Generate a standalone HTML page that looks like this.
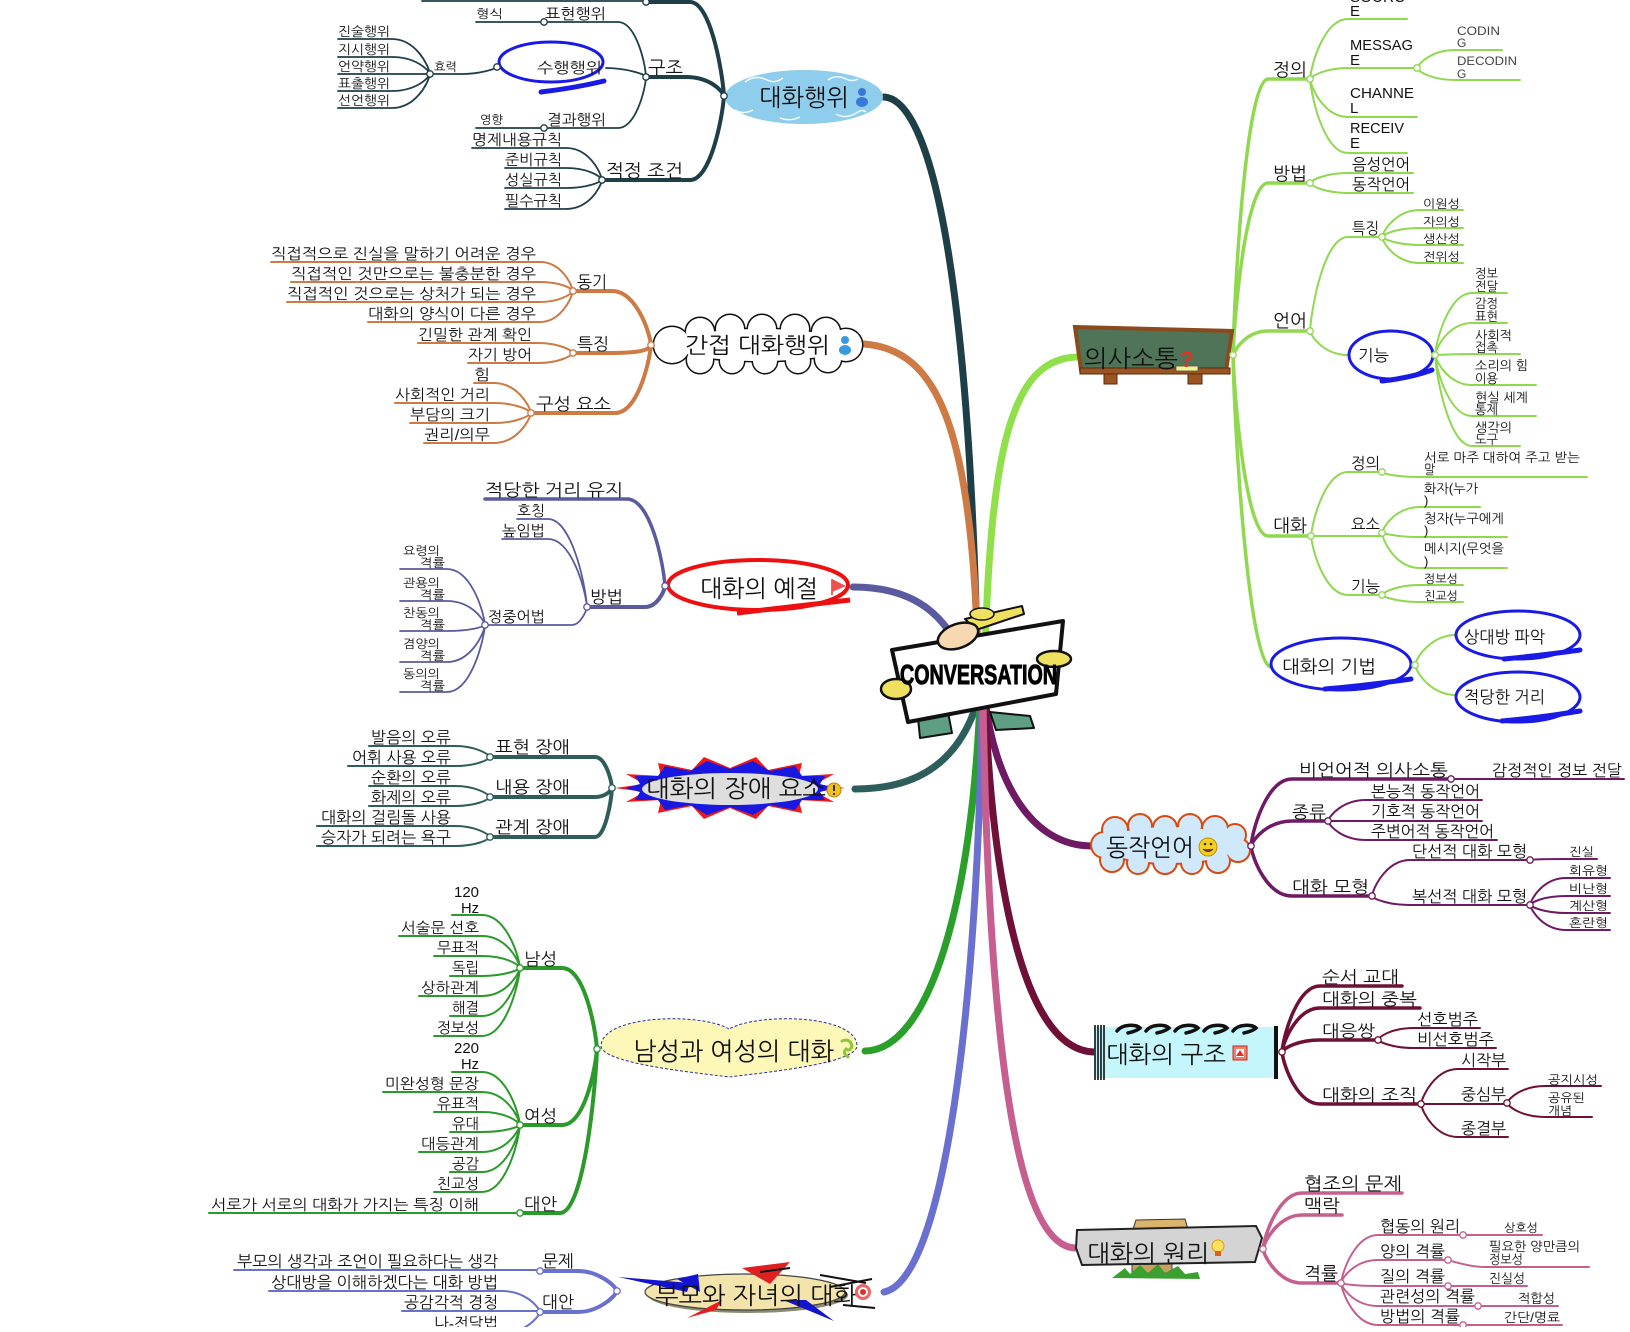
<!DOCTYPE html>
<html><head><meta charset="utf-8"><style>
html,body{margin:0;padding:0;background:#fff;overflow:hidden}
svg text{font-family:"Liberation Sans","NanumGothic","Noto Sans CJK KR",sans-serif;fill:#111}
.d{fill:#fff;stroke-width:1.3}
</style></head><body>
<svg xmlns="http://www.w3.org/2000/svg" width="1630" height="1327" viewBox="0 0 1630 1327">
<rect width="1630" height="1327" fill="#fff"/>
<!-- main lines -->
<g fill="none" stroke-width="7" stroke-linecap="round">
<path d="M884 97 C935 100 972 300 978 700" stroke="#1e3e48"/>
<path d="M864 344 C940 350 975 430 979 700" stroke="#cd7a44"/>
<path d="M853 587 C920 587 960 620 975 700" stroke="#5a5a9e"/>
<path d="M855 789 C920 789 960 760 978 700" stroke="#2d5e5c"/>
<path d="M865 1051 C930 1050 972 900 980 700" stroke="#2aa02a"/>
<path d="M884 1292 C945 1280 978 1000 982 700" stroke="#6a70d0"/>
<path d="M1076 357 C1010 360 988 450 984 700" stroke="#8fe04a"/>
<path d="M1092 846 C1030 846 995 780 985 700" stroke="#6e1a64"/>
<path d="M1094 1052 C1020 1050 992 870 985 700" stroke="#6e1038"/>
<path d="M1075 1248 C1010 1245 988 1000 983 700" stroke="#c65f90"/>
</g>
<!-- Branch 1 lines -->
<g fill="none" stroke="#1e3e48" stroke-linecap="round">
<path d="M646 2 H690 C710 2 722 68 724 96" stroke-width="4"/>
<path d="M646 77 H686 C709 77 722 90 724 96" stroke-width="4"/>
<path d="M602 180 H690 C710 180 722 121 724 96" stroke-width="4"/>
<g stroke-width="1.8">
<path d="M422 1 H646"/>
<path d="M476 22 H618 C635 22 645 60 646 77"/>
<path d="M606 68 C625 68 645 74 646 77"/>
<path d="M476 128 H618 C635 128 645 92 646 77"/>
<path d="M430 74 H462 C480 74 495 69 497 67"/>
<path d="M338 39 H392 C415 39 428 64 430 74"/>
<path d="M338 57 H392 C415 57 428 69 430 74"/>
<path d="M338 74 H430"/>
<path d="M338 91 H392 C415 91 428 79 430 74"/>
<path d="M338 108 H392 C415 108 428 84 430 74"/>
<path d="M472 148 H566 C588 148 600 170 602 180"/>
<path d="M505 168 H566 C588 168 600 176 602 180"/>
<path d="M505 188 H566 C588 188 600 182 602 180"/>
<path d="M505 209 H566 C588 209 600 189 602 180"/>
</g></g>
<!-- Branch 2 lines -->
<g fill="none" stroke="#cd7a44" stroke-linecap="round">
<path d="M573 291 H612 C635 291 649 329 651 345" stroke-width="4"/>
<path d="M573 353 H612 C635 353 649 351 651 345" stroke-width="4"/>
<path d="M531 413 H615 C637 413 649 365 651 345" stroke-width="4"/>
<g stroke-width="2">
<path d="M271 262 H540 C560 262 571 282 573 291"/>
<path d="M291 282 H540 C560 282 571 288 573 291"/>
<path d="M287 302 H540 C560 302 571 294 573 291"/>
<path d="M368 322 H540 C560 322 571 300 573 291"/>
<path d="M418 343 H538 C559 343 571 350 573 353"/>
<path d="M468 363 H538 C559 363 571 356 573 353"/>
<path d="M474 383 H494 C516 383 529 404 531 413"/>
<path d="M395 403 H494 C516 403 529 410 531 413"/>
<path d="M410 423 H494 C516 423 529 416 531 413"/>
<path d="M424 443 H494 C516 443 529 422 531 413"/>
</g></g>
<!-- Branch 3 lines -->
<g fill="none" stroke="#5a5a9e" stroke-linecap="round">
<path d="M485 499 H627 C650 499 663 560 665 586" stroke-width="3.5"/>
<path d="M587 607 H645 C657 607 664 592 665 586" stroke-width="4"/>
<g stroke-width="1.8">
<path d="M517 519 H548 C571 519 585 581 587 607"/>
<path d="M502 539 H548 C571 539 585 587 587 607"/>
<path d="M485 625 H572 C580 625 586 612 587 607"/>
<path d="M400 569 H447 C470 569 483 608 485 625"/>
<path d="M400 601 H447 C470 601 483 618 485 625"/>
<path d="M400 631 H447 C470 631 483 627 485 625"/>
<path d="M400 662 H447 C470 662 483 636 485 625"/>
<path d="M400 692 H447 C470 692 483 645 485 625"/>
</g></g>
<!-- Branch 4 lines -->
<g fill="none" stroke="#2d5e5c" stroke-linecap="round">
<path d="M490 757 H595 C605 757 611 778 612 788" stroke-width="4"/>
<path d="M490 797 H595 C605 797 611 791 612 788" stroke-width="4"/>
<path d="M490 837 H595 C605 837 611 803 612 788" stroke-width="4"/>
<g stroke-width="2">
<path d="M369 746 H455 C476 746 488 754 490 757"/>
<path d="M348 766 H455 C476 766 488 760 490 757"/>
<path d="M369 786 H455 C476 786 488 794 490 797"/>
<path d="M369 806 H455 C476 806 488 800 490 797"/>
<path d="M317 826 H455 C476 826 488 834 490 837"/>
<path d="M317 846 H455 C476 846 488 840 490 837"/>
</g></g>
<!-- Branch 5 lines -->
<g fill="none" stroke="#2a9a2a" stroke-linecap="round">
<path d="M520 968 H562 C584 968 595 1025 597 1049" stroke-width="4"/>
<path d="M520 1125 H562 C584 1125 595 1072 597 1049" stroke-width="4"/>
<path d="M520 1213 H560 C583 1213 595 1098 597 1049" stroke-width="4"/>
<g stroke-width="2">
<path d="M452 915 H482 C505 915 518 952 520 968"/>
<path d="M399 936 H482 C505 936 518 958 520 968"/>
<path d="M434 956 H482 C505 956 518 964 520 968"/>
<path d="M450 976 H482 C505 976 518 970 520 968"/>
<path d="M419 996 H482 C505 996 518 976 520 968"/>
<path d="M450 1016 H482 C505 1016 518 982 520 968"/>
<path d="M434 1036 H482 C505 1036 518 988 520 968"/>
<path d="M452 1072 H482 C505 1072 518 1109 520 1125"/>
<path d="M383 1092 H482 C505 1092 518 1115 520 1125"/>
<path d="M434 1112 H482 C505 1112 518 1121 520 1125"/>
<path d="M450 1132 H482 C505 1132 518 1127 520 1125"/>
<path d="M419 1152 H482 C505 1152 518 1133 520 1125"/>
<path d="M450 1172 H482 C505 1172 518 1139 520 1125"/>
<path d="M434 1192 H482 C505 1192 518 1145 520 1125"/>
<path d="M209 1213 H520"/>
</g></g>
<!-- Branch 6 lines -->
<g fill="none" stroke="#6a70d0" stroke-linecap="round">
<path d="M540 1271 H578 C598 1271 615 1285 617 1291" stroke-width="4"/>
<path d="M540 1312 H578 C598 1312 615 1297 617 1291" stroke-width="4"/>
<g stroke-width="2">
<path d="M234 1270 H540"/>
<path d="M269 1291 H502 C525 1291 538 1306 540 1312"/>
<path d="M402 1311 H540"/>
<path d="M432 1333 H502 C525 1333 538 1318 540 1312"/>
</g></g>
<!-- R1 lines -->
<g fill="none" stroke="#8fd850" stroke-linecap="round">
<g stroke-width="3.5">
<path d="M1233 355 C1235 272 1247 79 1268 79 H1310"/>
<path d="M1233 355 C1235 304 1247 183 1268 183 H1310"/>
<path d="M1233 355 C1236 348 1247 331 1268 331 H1310"/>
<path d="M1233 355 C1235 410 1247 536 1268 536 H1311"/>
<path d="M1233 355 C1235 449 1250 667 1271 667"/>
</g>
<g stroke-width="2">
<path d="M1310 79 C1312 61 1325 19 1348 19 H1407"/>
<path d="M1310 79 C1312 76 1325 68 1348 68 H1417"/>
<path d="M1310 79 C1312 90 1325 117 1348 117 H1417"/>
<path d="M1310 79 C1312 101 1325 153 1348 153 H1407"/>
<path d="M1417 68 C1419 63 1432 50 1455 50 H1502"/>
<path d="M1417 68 C1419 72 1432 80 1455 80 H1520"/>
<path d="M1310 183 C1312 180 1325 173 1348 173 H1413"/>
<path d="M1310 183 C1312 186 1325 193 1348 193 H1413"/>
<path d="M1310 331 C1312 303 1325 237 1348 237 H1382"/>
<path d="M1310 331 C1312 338 1325 355 1348 355"/>
<path d="M1382 237 C1384 229 1397 210 1420 210 H1463"/>
<path d="M1382 237 C1384 234 1397 228 1420 228 H1463"/>
<path d="M1382 237 C1384 239 1397 245 1420 245 H1463"/>
<path d="M1382 237 C1384 245 1397 263 1420 263 H1463"/>
<path d="M1435 355 C1437 336 1450 293 1472 293 H1507"/>
<path d="M1435 355 C1437 345 1450 323 1472 323 H1507"/>
<path d="M1435 355 C1437 355 1450 354 1472 354 H1520"/>
<path d="M1435 355 C1437 364 1450 385 1472 385 H1536"/>
<path d="M1435 355 C1437 373 1450 416 1472 416 H1536"/>
<path d="M1435 355 C1437 382 1450 446 1472 446 H1520"/>
<path d="M1311 536 C1313 517 1326 472 1348 472 H1382"/>
<path d="M1311 536 H1382"/>
<path d="M1311 536 C1313 554 1326 595 1348 595 H1382"/>
<path d="M1382 472 C1384 474 1398 477 1420 477 H1587"/>
<path d="M1382 533 C1384 525 1397 507 1420 507 H1480"/>
<path d="M1382 533 C1390 535 1400 537 1420 537 H1507"/>
<path d="M1382 533 C1384 544 1397 568 1420 568 H1507"/>
<path d="M1382 595 C1384 592 1397 585 1420 585 H1463"/>
<path d="M1382 595 C1384 597 1397 602 1420 602 H1463"/>
<path d="M1415 665 C1417 656 1432 635 1456 635"/>
<path d="M1415 665 C1417 674 1432 695 1456 695"/>
</g></g>
<!-- R2 lines -->
<g fill="none" stroke="#6e1a64" stroke-linecap="round">
<g stroke-width="3.5">
<path d="M1251 846 C1253 826 1268 779 1292 779 H1451"/>
<path d="M1251 846 C1253 839 1268 821 1292 821 H1328"/>
<path d="M1251 846 C1253 861 1268 896 1292 896 H1372"/>
</g>
<g stroke-width="2">
<path d="M1451 779 H1624"/>
<path d="M1328 821 C1330 815 1343 800 1366 800 H1482"/>
<path d="M1328 821 H1482"/>
<path d="M1328 821 C1330 827 1343 840 1366 840 H1497"/>
<path d="M1372 896 C1374 885 1388 860 1410 860 H1530"/>
<path d="M1372 896 C1374 899 1388 905 1410 905 H1530"/>
<path d="M1530 860 C1535 859 1550 859 1565 859 H1597"/>
<path d="M1530 905 C1532 897 1544 878 1566 878 H1610"/>
<path d="M1530 905 C1532 902 1544 896 1566 896 H1610"/>
<path d="M1530 905 C1532 907 1544 913 1566 913 H1610"/>
<path d="M1530 905 C1532 912 1544 930 1566 930 H1610"/>
</g></g>
<!-- R3 lines -->
<g fill="none" stroke="#6e1038" stroke-linecap="round">
<g stroke-width="3.5">
<path d="M1282 1052 C1284 1032 1298 986 1320 986 H1402"/>
<path d="M1282 1052 C1284 1039 1298 1008 1320 1008 H1420"/>
<path d="M1282 1052 C1284 1048 1298 1040 1320 1040 H1378"/>
<path d="M1282 1052 C1284 1068 1298 1104 1320 1104 H1421"/>
</g>
<g stroke-width="2">
<path d="M1378 1040 C1380 1036 1392 1028 1414 1028 H1480"/>
<path d="M1378 1040 C1380 1042 1392 1048 1414 1048 H1496"/>
<path d="M1421 1104 C1423 1094 1436 1069 1458 1069 H1508"/>
<path d="M1421 1104 H1507"/>
<path d="M1421 1104 C1423 1114 1436 1137 1458 1137 H1508"/>
<path d="M1507 1103 C1509 1098 1522 1086 1545 1086 H1601"/>
<path d="M1507 1103 C1509 1107 1522 1117 1545 1117 H1592"/>
</g></g>
<!-- R4 lines -->
<g fill="none" stroke="#c65f90" stroke-linecap="round">
<g stroke-width="3.5">
<path d="M1263 1249 C1265 1232 1280 1193 1302 1193 H1402"/>
<path d="M1263 1249 C1265 1239 1280 1215 1302 1215 H1342"/>
<path d="M1263 1249 C1265 1259 1280 1283 1302 1283 H1341"/>
</g>
<g stroke-width="2">
<path d="M1341 1283 C1343 1269 1356 1235 1378 1235 H1463"/>
<path d="M1341 1283 C1343 1276 1356 1260 1378 1260 H1448"/>
<path d="M1341 1283 C1343 1284 1356 1286 1378 1286 H1448"/>
<path d="M1341 1283 C1343 1290 1356 1306 1378 1306 H1478"/>
<path d="M1341 1283 C1343 1296 1356 1325 1378 1325 H1463"/>
<path d="M1463 1235 H1542"/>
<path d="M1448 1260 C1455 1262 1470 1267 1485 1267 H1589"/>
<path d="M1448 1286 H1527"/>
<path d="M1478 1306 H1558"/>
<path d="M1463 1325 H1562"/>
</g></g>

<!-- ===== Topic shapes ===== -->
<ellipse cx="804" cy="97" rx="79" ry="27" fill="#8fcdec"/>
<g fill="none" stroke="#fff" stroke-width="1.5" opacity="0.9">
<path d="M745 82 q10 -8 22 -2 q8 4 16 -2"/>
<path d="M828 80 q8 -6 18 -1 q6 3 12 0"/>
<path d="M735 110 q8 5 18 0"/>
<path d="M836 114 q10 6 22 -2 q4 -3 8 0"/>
<path d="M780 118 q10 4 20 -1"/>
</g>
<g stroke="#111" stroke-width="3" fill="#111">
<circle cx="700" cy="332" r="14"/><circle cx="730" cy="329" r="14"/><circle cx="762" cy="329" r="14"/><circle cx="795" cy="329" r="14"/><circle cx="826" cy="332" r="14"/>
<circle cx="672" cy="345" r="18"/><circle cx="846" cy="345" r="16"/>
<circle cx="700" cy="360" r="13"/><circle cx="732" cy="361" r="12"/><circle cx="765" cy="361" r="12"/><circle cx="798" cy="361" r="12"/><circle cx="828" cy="359" r="13"/>
<ellipse cx="760" cy="345" rx="88" ry="16"/>
</g>
<g fill="#fff">
<circle cx="700" cy="332" r="14"/><circle cx="730" cy="329" r="14"/><circle cx="762" cy="329" r="14"/><circle cx="795" cy="329" r="14"/><circle cx="826" cy="332" r="14"/>
<circle cx="672" cy="345" r="18"/><circle cx="846" cy="345" r="16"/>
<circle cx="700" cy="360" r="13"/><circle cx="732" cy="361" r="12"/><circle cx="765" cy="361" r="12"/><circle cx="798" cy="361" r="12"/><circle cx="828" cy="359" r="13"/>
<ellipse cx="760" cy="345" rx="88" ry="16"/>
</g>
<ellipse cx="758" cy="585" rx="90" ry="25" fill="#fff" stroke="#ee1010" stroke-width="4"/>
<path d="M737 613 Q800 606 850 600" fill="none" stroke="#ee1010" stroke-width="5"/>
<polygon fill="#f01818" points="845,788 816,792 834,802 799,800 802,813 768,806 756,819 730,808 704,819 692,806 658,813 661,800 626,802 644,792 615,788 644,784 626,774 661,776 658,763 692,770 704,757 730,768 756,757 768,770 802,763 799,776 834,774 816,784"/>
<polygon fill="#1818e0" points="835,788 820,792 825,800 802,800 795,810 770,805 753,815 730,807 707,815 690,805 665,810 658,800 635,800 640,792 625,788 640,784 635,776 658,776 665,766 690,771 707,761 730,769 753,761 770,771 795,766 802,776 825,776 820,784"/>
<ellipse cx="730" cy="789" rx="88" ry="16" fill="#dedede"/>
<path d="M729 1029 C700 1012 602 1015 601 1046 C602 1064 700 1073 729 1077 C760 1073 856 1064 857 1046 C857 1015 760 1012 729 1029 Z" fill="#fdf8b8" stroke="#2a2aa0" stroke-width="1" stroke-dasharray="3 2"/>
<ellipse cx="748" cy="1295" rx="100" ry="18" fill="#8a8a70"/>
<ellipse cx="745" cy="1292" rx="100" ry="18" fill="#f2e4aa" stroke="#444" stroke-width="1.2"/>
<polygon points="618,1277 690,1283 687,1292" fill="#1414d0"/>
<polygon points="677,1279 698,1274 700,1292" fill="#1414d0"/>
<polygon points="742,1268 790,1262 770,1284" fill="#e02020"/>
<polygon points="687,1318 722,1300 716,1310" fill="#e02020"/>
<polygon points="783,1300 834,1321 806,1300" fill="#1414d0"/>
<g stroke="#111" stroke-width="2"><line x1="820" y1="1275" x2="866" y2="1283"/><line x1="830" y1="1287" x2="872" y2="1279"/><line x1="843" y1="1305" x2="875" y2="1308"/><line x1="760" y1="1272" x2="790" y2="1268"/></g>
<polygon points="1075,327 1232,331 1226,371 1081,370" fill="#4f7457" stroke="#8b4a1e" stroke-width="4"/>
<rect x="1080" y="368" width="150" height="6" fill="#9b5524" stroke="#5a2a0a" stroke-width="1"/>
<rect x="1104" y="374" width="13" height="10" fill="#9b5524" stroke="#5a2a0a" stroke-width="1"/>
<rect x="1188" y="374" width="14" height="10" fill="#9b5524" stroke="#5a2a0a" stroke-width="1"/>
<rect x="1176" y="366" width="22" height="5" fill="#f5f090" stroke="#555" stroke-width="0.8"/>
<g fill="#fff" stroke="#1a1ae6" stroke-width="3">
<ellipse cx="551" cy="62" rx="52" ry="20"/>
<ellipse cx="1391" cy="355" rx="42" ry="24"/>
<ellipse cx="1341" cy="664" rx="70" ry="26"/>
<ellipse cx="1518" cy="635" rx="62" ry="24"/>
<ellipse cx="1518" cy="697" rx="62" ry="25"/>
</g>
<g fill="none" stroke="#1a1ae6" stroke-width="5" stroke-linecap="round">
<path d="M541 92 Q575 88 604 81"/>
<path d="M1382 381 Q1410 378 1432 370"/>
<path d="M1325 689 Q1370 685 1411 679"/>
<path d="M1504 659 Q1545 655 1580 650"/>
<path d="M1502 721 Q1545 717 1580 711"/>
</g>
<g stroke="#d84a10" stroke-width="4" fill="#d84a10">
<circle cx="1115" cy="830" r="12"/><circle cx="1140" cy="826" r="11"/><circle cx="1165" cy="828" r="11"/><circle cx="1190" cy="826" r="11"/><circle cx="1215" cy="829" r="12"/><circle cx="1235" cy="835" r="10"/>
<circle cx="1104" cy="845" r="12"/><circle cx="1238" cy="850" r="11"/>
<circle cx="1112" cy="860" r="11"/><circle cx="1138" cy="863" r="10"/><circle cx="1165" cy="862" r="11"/><circle cx="1192" cy="863" r="10"/><circle cx="1218" cy="861" r="11"/>
<ellipse cx="1170" cy="845" rx="68" ry="18"/>
</g>
<g fill="#cfe8fa">
<circle cx="1115" cy="830" r="12"/><circle cx="1140" cy="826" r="11"/><circle cx="1165" cy="828" r="11"/><circle cx="1190" cy="826" r="11"/><circle cx="1215" cy="829" r="12"/><circle cx="1235" cy="835" r="10"/>
<circle cx="1104" cy="845" r="12"/><circle cx="1238" cy="850" r="11"/>
<circle cx="1112" cy="860" r="11"/><circle cx="1138" cy="863" r="10"/><circle cx="1165" cy="862" r="11"/><circle cx="1192" cy="863" r="10"/><circle cx="1218" cy="861" r="11"/>
<ellipse cx="1170" cy="845" rx="68" ry="18"/>
</g>
<rect x="1094" y="1027" width="184" height="51" fill="#c4f6fb"/>
<g stroke="#111" stroke-width="1.6"><line x1="1095" y1="1025" x2="1095" y2="1080"/><line x1="1098" y1="1025" x2="1098" y2="1080"/><line x1="1101" y1="1025" x2="1101" y2="1080"/><line x1="1104" y1="1025" x2="1104" y2="1080"/></g>
<rect x="1274" y="1026" width="4" height="53" fill="#111"/>
<g fill="none" stroke="#111" stroke-width="3.5" stroke-linecap="round">
<path d="M1117 1031 C1122 1024 1136 1024 1140 1028 C1137 1031 1132 1032 1128 1033"/>
<path d="M1146 1031 C1151 1024 1165 1024 1169 1028 C1166 1031 1161 1032 1157 1033"/>
<path d="M1175 1031 C1180 1024 1194 1024 1198 1028 C1195 1031 1190 1032 1186 1033"/>
<path d="M1204 1031 C1209 1024 1223 1024 1227 1028 C1224 1031 1219 1032 1215 1033"/>
<path d="M1233 1031 C1238 1024 1252 1024 1256 1028 C1253 1031 1248 1032 1244 1033"/>
</g>
<polygon points="1136,1220 1185,1219 1188,1229 1133,1229" fill="#d9b46a" stroke="#333" stroke-width="1"/>
<rect x="1132" y="1262" width="40" height="11" fill="#c8a060" stroke="#444" stroke-width="1"/>
<path d="M1112 1278 L1125 1268 L1130 1274 L1140 1265 L1148 1273 L1158 1264 L1165 1273 L1178 1266 L1185 1274 L1198 1272 L1200 1279 Z" fill="#3aa030"/>
<polygon points="1077,1230 1256,1226 1262,1238 1255,1262 1082,1265 1076,1248" fill="#d4d4d4" stroke="#222" stroke-width="2"/>

<!-- ===== node dots ===== -->
<g class="dots">
<g stroke="#1e3e48"><circle class="d" cx="646" cy="2" r="3.2"/><circle class="d" cx="646" cy="77" r="3.2"/><circle class="d" cx="544" cy="22" r="3.2"/><circle class="d" cx="497" cy="67" r="3.2"/><circle class="d" cx="430" cy="74" r="3.2"/><circle class="d" cx="544" cy="128" r="3.2"/><circle class="d" cx="602" cy="180" r="3.2"/><circle class="d" cx="724" cy="96" r="3.2"/></g>
<g stroke="#cd7a44"><circle class="d" cx="573" cy="291" r="3.2"/><circle class="d" cx="573" cy="353" r="3.2"/><circle class="d" cx="531" cy="413" r="3.2"/><circle class="d" cx="651" cy="345" r="3.2"/></g>
<g stroke="#5a5a9e"><circle class="d" cx="665" cy="586" r="3.2"/><circle class="d" cx="587" cy="607" r="3.2"/><circle class="d" cx="485" cy="625" r="3.2"/></g>
<g stroke="#2d5e5c"><circle class="d" cx="612" cy="788" r="3.2"/><circle class="d" cx="490" cy="757" r="3.2"/><circle class="d" cx="490" cy="797" r="3.2"/><circle class="d" cx="490" cy="837" r="3.2"/></g>
<g stroke="#2a9a2a"><circle class="d" cx="597" cy="1049" r="3.2"/><circle class="d" cx="520" cy="968" r="3.2"/><circle class="d" cx="520" cy="1125" r="3.2"/><circle class="d" cx="520" cy="1213" r="3.2"/></g>
<g stroke="#6a70d0"><circle class="d" cx="617" cy="1291" r="3.2"/><circle class="d" cx="540" cy="1271" r="3.2"/><circle class="d" cx="540" cy="1312" r="3.2"/></g>
<g stroke="#8fd850"><circle class="d" cx="1233" cy="355" r="3.2"/><circle class="d" cx="1310" cy="79" r="3.2"/><circle class="d" cx="1417" cy="68" r="3.2"/><circle class="d" cx="1310" cy="183" r="3.2"/><circle class="d" cx="1310" cy="331" r="3.2"/><circle class="d" cx="1382" cy="237" r="3.2"/><circle class="d" cx="1435" cy="355" r="3.2"/><circle class="d" cx="1311" cy="536" r="3.2"/><circle class="d" cx="1382" cy="472" r="3.2"/><circle class="d" cx="1382" cy="533" r="3.2"/><circle class="d" cx="1382" cy="595" r="3.2"/><circle class="d" cx="1415" cy="665" r="3.2"/></g>
<g stroke="#6e1a64"><circle class="d" cx="1251" cy="846" r="3.2"/><circle class="d" cx="1451" cy="779" r="3.2"/><circle class="d" cx="1328" cy="821" r="3.2"/><circle class="d" cx="1372" cy="896" r="3.2"/><circle class="d" cx="1530" cy="860" r="3.2"/><circle class="d" cx="1530" cy="905" r="3.2"/></g>
<g stroke="#6e1038"><circle class="d" cx="1282" cy="1052" r="3.2"/><circle class="d" cx="1378" cy="1040" r="3.2"/><circle class="d" cx="1421" cy="1104" r="3.2"/><circle class="d" cx="1507" cy="1103" r="3.2"/></g>
<g stroke="#c65f90"><circle class="d" cx="1263" cy="1249" r="3.2"/><circle class="d" cx="1341" cy="1283" r="3.2"/><circle class="d" cx="1463" cy="1235" r="3.2"/><circle class="d" cx="1448" cy="1260" r="3.2"/><circle class="d" cx="1448" cy="1286" r="3.2"/><circle class="d" cx="1478" cy="1306" r="3.2"/><circle class="d" cx="1463" cy="1325" r="3.2"/></g>
</g>

<!-- ===== TEXT: Branch 1 ===== -->
<text x="759" y="106" font-size="24" textLength="90" lengthAdjust="spacingAndGlyphs">대화행위</text>
<text x="648" y="74" font-size="18" textLength="35" lengthAdjust="spacingAndGlyphs">구조</text>
<text x="545" y="19" font-size="15" textLength="61" lengthAdjust="spacingAndGlyphs">표현행위</text>
<text x="476" y="18" font-size="12" textLength="27" lengthAdjust="spacingAndGlyphs">형식</text>
<text x="537" y="73" font-size="15" textLength="65" lengthAdjust="spacingAndGlyphs">수행행위</text>
<text x="434" y="71" font-size="12" textLength="23" lengthAdjust="spacingAndGlyphs">효력</text>
<text x="338" y="36" font-size="13" textLength="52" lengthAdjust="spacingAndGlyphs">진술행위</text>
<text x="338" y="54" font-size="13" textLength="52" lengthAdjust="spacingAndGlyphs">지시행위</text>
<text x="338" y="71" font-size="13" textLength="52" lengthAdjust="spacingAndGlyphs">언약행위</text>
<text x="338" y="88" font-size="13" textLength="52" lengthAdjust="spacingAndGlyphs">표출행위</text>
<text x="338" y="105" font-size="13" textLength="52" lengthAdjust="spacingAndGlyphs">선언행위</text>
<text x="547" y="125" font-size="15" textLength="59" lengthAdjust="spacingAndGlyphs">결과행위</text>
<text x="480" y="124" font-size="12" textLength="23" lengthAdjust="spacingAndGlyphs">영향</text>
<text x="606" y="177" font-size="18" textLength="77" lengthAdjust="spacingAndGlyphs">적정 조건</text>
<text x="472" y="145" font-size="15" textLength="90" lengthAdjust="spacingAndGlyphs">명제내용규칙</text>
<text x="505" y="165" font-size="15" textLength="57" lengthAdjust="spacingAndGlyphs">준비규칙</text>
<text x="505" y="185" font-size="15" textLength="57" lengthAdjust="spacingAndGlyphs">성실규칙</text>
<text x="505" y="206" font-size="15" textLength="57" lengthAdjust="spacingAndGlyphs">필수규칙</text>

<!-- Branch 2 text -->
<text x="685" y="353" font-size="22" textLength="145" lengthAdjust="spacingAndGlyphs">간접 대화행위</text>
<text x="577" y="288" font-size="17" textLength="30" lengthAdjust="spacingAndGlyphs">동기</text>
<text x="271" y="259" font-size="15" textLength="265" lengthAdjust="spacingAndGlyphs">직접적으로 진실을 말하기 어려운 경우</text>
<text x="291" y="279" font-size="15" textLength="245" lengthAdjust="spacingAndGlyphs">직접적인 것만으로는 불충분한 경우</text>
<text x="287" y="299" font-size="15" textLength="249" lengthAdjust="spacingAndGlyphs">직접적인 것으로는 상처가 되는 경우</text>
<text x="368" y="319" font-size="15" textLength="168" lengthAdjust="spacingAndGlyphs">대화의 양식이 다른 경우</text>
<text x="577" y="350" font-size="17" textLength="32" lengthAdjust="spacingAndGlyphs">특징</text>
<text x="418" y="340" font-size="15" textLength="114" lengthAdjust="spacingAndGlyphs">긴밀한 관계 확인</text>
<text x="468" y="360" font-size="15" textLength="64" lengthAdjust="spacingAndGlyphs">자기 방어</text>
<text x="536" y="410" font-size="17" textLength="75" lengthAdjust="spacingAndGlyphs">구성 요소</text>
<text x="474" y="380" font-size="15" textLength="16" lengthAdjust="spacingAndGlyphs">힘</text>
<text x="395" y="400" font-size="15" textLength="95" lengthAdjust="spacingAndGlyphs">사회적인 거리</text>
<text x="410" y="420" font-size="15" textLength="80" lengthAdjust="spacingAndGlyphs">부담의 크기</text>
<text x="424" y="440" font-size="15" textLength="66" lengthAdjust="spacingAndGlyphs">권리/의무</text>

<!-- Branch 3 text -->
<text x="700" y="597" font-size="24" textLength="118" lengthAdjust="spacingAndGlyphs">대화의 예절</text>
<text x="485" y="496" font-size="17" textLength="138" lengthAdjust="spacingAndGlyphs">적당한 거리 유지</text>
<text x="517" y="516" font-size="15" textLength="28" lengthAdjust="spacingAndGlyphs">호칭</text>
<text x="502" y="536" font-size="15" textLength="43" lengthAdjust="spacingAndGlyphs">높임법</text>
<text x="590" y="603" font-size="17" textLength="33" lengthAdjust="spacingAndGlyphs">방법</text>
<text x="488" y="622" font-size="15" textLength="57" lengthAdjust="spacingAndGlyphs">정중어법</text>
<g font-size="12">
<text x="403" y="555" textLength="37" lengthAdjust="spacingAndGlyphs">요령의</text><text x="420" y="567" textLength="25" lengthAdjust="spacingAndGlyphs">격률</text>
<text x="403" y="587" textLength="37" lengthAdjust="spacingAndGlyphs">관용의</text><text x="420" y="599" textLength="25" lengthAdjust="spacingAndGlyphs">격률</text>
<text x="403" y="617" textLength="37" lengthAdjust="spacingAndGlyphs">찬동의</text><text x="420" y="629" textLength="25" lengthAdjust="spacingAndGlyphs">격률</text>
<text x="403" y="648" textLength="37" lengthAdjust="spacingAndGlyphs">겸양의</text><text x="420" y="660" textLength="25" lengthAdjust="spacingAndGlyphs">격률</text>
<text x="403" y="678" textLength="37" lengthAdjust="spacingAndGlyphs">동의의</text><text x="420" y="690" textLength="25" lengthAdjust="spacingAndGlyphs">격률</text>
</g>

<!-- Branch 4 text -->
<text x="646" y="797" font-size="24" textLength="180" lengthAdjust="spacingAndGlyphs">대화의 장애 요소</text>
<text x="495" y="753" font-size="17" textLength="75" lengthAdjust="spacingAndGlyphs">표현 장애</text>
<text x="495" y="793" font-size="17" textLength="75" lengthAdjust="spacingAndGlyphs">내용 장애</text>
<text x="495" y="833" font-size="17" textLength="75" lengthAdjust="spacingAndGlyphs">관계 장애</text>
<text x="371" y="743" font-size="16" textLength="80" lengthAdjust="spacingAndGlyphs">발음의 오류</text>
<text x="352" y="763" font-size="16" textLength="99" lengthAdjust="spacingAndGlyphs">어휘 사용 오류</text>
<text x="371" y="783" font-size="16" textLength="80" lengthAdjust="spacingAndGlyphs">순환의 오류</text>
<text x="371" y="803" font-size="16" textLength="80" lengthAdjust="spacingAndGlyphs">화제의 오류</text>
<text x="321" y="823" font-size="16" textLength="130" lengthAdjust="spacingAndGlyphs">대화의 걸림돌 사용</text>
<text x="321" y="843" font-size="16" textLength="130" lengthAdjust="spacingAndGlyphs">승자가 되려는 욕구</text>

<!-- Branch 5 text -->
<text x="633" y="1060" font-size="25" textLength="201" lengthAdjust="spacingAndGlyphs">남성과 여성의 대화</text>
<text x="524" y="965" font-size="17" textLength="33" lengthAdjust="spacingAndGlyphs">남성</text>
<text x="524" y="1122" font-size="17" textLength="33" lengthAdjust="spacingAndGlyphs">여성</text>
<text x="524" y="1210" font-size="17" textLength="33" lengthAdjust="spacingAndGlyphs">대안</text>
<g font-size="15">
<text x="454" y="897" textLength="25" lengthAdjust="spacingAndGlyphs">120</text>
<text x="461" y="913" textLength="18" lengthAdjust="spacingAndGlyphs">Hz</text>
<text x="401" y="933" textLength="78" lengthAdjust="spacingAndGlyphs">서술문 선호</text>
<text x="437" y="953" textLength="42" lengthAdjust="spacingAndGlyphs">무표적</text>
<text x="452" y="973" textLength="27" lengthAdjust="spacingAndGlyphs">독립</text>
<text x="421" y="993" textLength="58" lengthAdjust="spacingAndGlyphs">상하관계</text>
<text x="452" y="1013" textLength="27" lengthAdjust="spacingAndGlyphs">해결</text>
<text x="437" y="1033" textLength="42" lengthAdjust="spacingAndGlyphs">정보성</text>
<text x="454" y="1053" textLength="25" lengthAdjust="spacingAndGlyphs">220</text>
<text x="461" y="1069" textLength="18" lengthAdjust="spacingAndGlyphs">Hz</text>
<text x="385" y="1089" textLength="94" lengthAdjust="spacingAndGlyphs">미완성형 문장</text>
<text x="437" y="1109" textLength="42" lengthAdjust="spacingAndGlyphs">유표적</text>
<text x="452" y="1129" textLength="27" lengthAdjust="spacingAndGlyphs">유대</text>
<text x="421" y="1149" textLength="58" lengthAdjust="spacingAndGlyphs">대등관계</text>
<text x="452" y="1169" textLength="27" lengthAdjust="spacingAndGlyphs">공감</text>
<text x="437" y="1189" textLength="42" lengthAdjust="spacingAndGlyphs">친교성</text>
<text x="211" y="1210" textLength="268" lengthAdjust="spacingAndGlyphs">서로가 서로의 대화가 가지는 특징 이해</text>
</g>

<!-- Branch 6 text -->
<text x="655" y="1304" font-size="24" textLength="202" lengthAdjust="spacingAndGlyphs">부모와 자녀의 대화</text>
<text x="542" y="1267" font-size="17" textLength="32" lengthAdjust="spacingAndGlyphs">문제</text>
<text x="542" y="1308" font-size="17" textLength="32" lengthAdjust="spacingAndGlyphs">대안</text>
<text x="237" y="1267" font-size="16" textLength="261" lengthAdjust="spacingAndGlyphs">부모의 생각과 조언이 필요하다는 생각</text>
<text x="271" y="1288" font-size="16" textLength="227" lengthAdjust="spacingAndGlyphs">상대방을 이해하겠다는 대화 방법</text>
<text x="404" y="1308" font-size="16" textLength="94" lengthAdjust="spacingAndGlyphs">공감각적 경청</text>
<text x="434" y="1329" font-size="16" textLength="64" lengthAdjust="spacingAndGlyphs">나-전달법</text>

<!-- R1 text -->
<text x="1084" y="367" font-size="24" textLength="94" lengthAdjust="spacingAndGlyphs">의사소통</text>
<text x="1180" y="367" font-size="22" font-weight="bold" style="fill:#e83020">?</text>
<text x="1273" y="76" font-size="18" textLength="34" lengthAdjust="spacingAndGlyphs">정의</text>
<text x="1273" y="180" font-size="18" textLength="34" lengthAdjust="spacingAndGlyphs">방법</text>
<text x="1273" y="327" font-size="18" textLength="34" lengthAdjust="spacingAndGlyphs">언어</text>
<text x="1273" y="532" font-size="18" textLength="34" lengthAdjust="spacingAndGlyphs">대화</text>
<g font-size="15">
<text x="1350" y="2" textLength="55" lengthAdjust="spacingAndGlyphs">SOURC</text>
<text x="1350" y="16">E</text>
<text x="1350" y="50" textLength="63" lengthAdjust="spacingAndGlyphs">MESSAG</text>
<text x="1350" y="65">E</text>
<text x="1350" y="98" textLength="64" lengthAdjust="spacingAndGlyphs">CHANNE</text>
<text x="1350" y="113">L</text>
<text x="1350" y="133" textLength="54" lengthAdjust="spacingAndGlyphs">RECEIV</text>
<text x="1350" y="148">E</text>
</g>
<g font-size="12">
<text x="1457" y="35" textLength="43" lengthAdjust="spacingAndGlyphs" style="fill:#444">CODIN</text>
<text x="1457" y="47" style="fill:#444">G</text>
<text x="1457" y="65" textLength="60" lengthAdjust="spacingAndGlyphs" style="fill:#444">DECODIN</text>
<text x="1457" y="78" style="fill:#444">G</text>
</g>
<text x="1352" y="170" font-size="16" textLength="58" lengthAdjust="spacingAndGlyphs">음성언어</text>
<text x="1352" y="190" font-size="16" textLength="58" lengthAdjust="spacingAndGlyphs">동작언어</text>
<text x="1352" y="234" font-size="16" textLength="27" lengthAdjust="spacingAndGlyphs">특징</text>
<g font-size="12">
<text x="1423" y="208" textLength="37" lengthAdjust="spacingAndGlyphs">이원성</text>
<text x="1423" y="226" textLength="37" lengthAdjust="spacingAndGlyphs">자의성</text>
<text x="1423" y="243" textLength="37" lengthAdjust="spacingAndGlyphs">생산성</text>
<text x="1423" y="261" textLength="37" lengthAdjust="spacingAndGlyphs">전위성</text>
</g>
<text x="1358" y="361" font-size="16" textLength="31" lengthAdjust="spacingAndGlyphs">기능</text>
<g font-size="13">
<text x="1475" y="278" textLength="23" lengthAdjust="spacingAndGlyphs">정보</text><text x="1475" y="291" textLength="23" lengthAdjust="spacingAndGlyphs">전달</text>
<text x="1475" y="308" textLength="23" lengthAdjust="spacingAndGlyphs">감정</text><text x="1475" y="321" textLength="23" lengthAdjust="spacingAndGlyphs">표현</text>
<text x="1475" y="340" textLength="37" lengthAdjust="spacingAndGlyphs">사회적</text><text x="1475" y="352" textLength="23" lengthAdjust="spacingAndGlyphs">접촉</text>
<text x="1475" y="370" textLength="53" lengthAdjust="spacingAndGlyphs">소리의 힘</text><text x="1475" y="383" textLength="23" lengthAdjust="spacingAndGlyphs">이용</text>
<text x="1475" y="402" textLength="53" lengthAdjust="spacingAndGlyphs">현실 세계</text><text x="1475" y="414" textLength="23" lengthAdjust="spacingAndGlyphs">통제</text>
<text x="1475" y="432" textLength="37" lengthAdjust="spacingAndGlyphs">생각의</text><text x="1475" y="444" textLength="23" lengthAdjust="spacingAndGlyphs">도구</text>
</g>
<text x="1351" y="469" font-size="16" textLength="29" lengthAdjust="spacingAndGlyphs">정의</text>
<text x="1351" y="530" font-size="16" textLength="29" lengthAdjust="spacingAndGlyphs">요소</text>
<text x="1351" y="592" font-size="16" textLength="29" lengthAdjust="spacingAndGlyphs">기능</text>
<g font-size="13">
<text x="1424" y="462" textLength="156" lengthAdjust="spacingAndGlyphs">서로 마주 대하여 주고 받는</text>
<text x="1424" y="474" textLength="11" lengthAdjust="spacingAndGlyphs">말</text>
<text x="1424" y="493" textLength="54" lengthAdjust="spacingAndGlyphs">화자(누가</text>
<text x="1424" y="505">)</text>
<text x="1424" y="523" textLength="80" lengthAdjust="spacingAndGlyphs">청자(누구에게</text>
<text x="1424" y="535">)</text>
<text x="1424" y="553" textLength="80" lengthAdjust="spacingAndGlyphs">메시지(무엇을</text>
<text x="1424" y="566">)</text>
</g>
<text x="1424" y="583" font-size="12" textLength="34" lengthAdjust="spacingAndGlyphs">정보성</text>
<text x="1424" y="600" font-size="12" textLength="34" lengthAdjust="spacingAndGlyphs">친교성</text>
<text x="1282" y="673" font-size="18" textLength="94" lengthAdjust="spacingAndGlyphs">대화의 기법</text>
<text x="1464" y="643" font-size="17" textLength="81" lengthAdjust="spacingAndGlyphs">상대방 파악</text>
<text x="1464" y="703" font-size="17" textLength="81" lengthAdjust="spacingAndGlyphs">적당한 거리</text>

<!-- R2 text -->
<text x="1106" y="856" font-size="24" textLength="88" lengthAdjust="spacingAndGlyphs">동작언어</text>
<text x="1299" y="776" font-size="17" textLength="149" lengthAdjust="spacingAndGlyphs">비언어적 의사소통</text>
<text x="1492" y="776" font-size="16" textLength="130" lengthAdjust="spacingAndGlyphs">감정적인 정보 전달</text>
<text x="1292" y="818" font-size="17" textLength="34" lengthAdjust="spacingAndGlyphs">종류</text>
<text x="1371" y="797" font-size="16" textLength="109" lengthAdjust="spacingAndGlyphs">본능적 동작언어</text>
<text x="1371" y="817" font-size="16" textLength="109" lengthAdjust="spacingAndGlyphs">기호적 동작언어</text>
<text x="1371" y="837" font-size="16" textLength="123" lengthAdjust="spacingAndGlyphs">주변어적 동작언어</text>
<text x="1292" y="893" font-size="17" textLength="77" lengthAdjust="spacingAndGlyphs">대화 모형</text>
<text x="1412" y="857" font-size="16" textLength="115" lengthAdjust="spacingAndGlyphs">단선적 대화 모형</text>
<text x="1412" y="902" font-size="16" textLength="115" lengthAdjust="spacingAndGlyphs">복선적 대화 모형</text>
<g font-size="12">
<text x="1569" y="856" textLength="25" lengthAdjust="spacingAndGlyphs">진실</text>
<text x="1569" y="875" textLength="39" lengthAdjust="spacingAndGlyphs">회유형</text>
<text x="1569" y="893" textLength="39" lengthAdjust="spacingAndGlyphs">비난형</text>
<text x="1569" y="910" textLength="39" lengthAdjust="spacingAndGlyphs">계산형</text>
<text x="1569" y="927" textLength="39" lengthAdjust="spacingAndGlyphs">혼란형</text>
</g>

<!-- R3 text -->
<text x="1106" y="1063" font-size="24" textLength="120" lengthAdjust="spacingAndGlyphs">대화의 구조</text>
<text x="1322" y="983" font-size="17" textLength="77" lengthAdjust="spacingAndGlyphs">순서 교대</text>
<text x="1322" y="1005" font-size="17" textLength="95" lengthAdjust="spacingAndGlyphs">대화의 중복</text>
<text x="1322" y="1037" font-size="17" textLength="53" lengthAdjust="spacingAndGlyphs">대응쌍</text>
<text x="1322" y="1101" font-size="17" textLength="95" lengthAdjust="spacingAndGlyphs">대화의 조직</text>
<text x="1417" y="1025" font-size="16" textLength="61" lengthAdjust="spacingAndGlyphs">선호범주</text>
<text x="1417" y="1045" font-size="16" textLength="77" lengthAdjust="spacingAndGlyphs">비선호범주</text>
<text x="1461" y="1066" font-size="16" textLength="45" lengthAdjust="spacingAndGlyphs">시작부</text>
<text x="1461" y="1100" font-size="16" textLength="45" lengthAdjust="spacingAndGlyphs">중심부</text>
<text x="1461" y="1134" font-size="16" textLength="45" lengthAdjust="spacingAndGlyphs">종결부</text>
<text x="1548" y="1084" font-size="12" textLength="50" lengthAdjust="spacingAndGlyphs">공지시성</text>
<text x="1548" y="1102" font-size="12" textLength="37" lengthAdjust="spacingAndGlyphs">공유된</text>
<text x="1548" y="1115" font-size="12" textLength="24" lengthAdjust="spacingAndGlyphs">개념</text>

<!-- R4 text -->
<text x="1087" y="1262" font-size="24" textLength="122" lengthAdjust="spacingAndGlyphs">대화의 원리</text>
<text x="1304" y="1190" font-size="18" textLength="98" lengthAdjust="spacingAndGlyphs">협조의 문제</text>
<text x="1304" y="1212" font-size="18" textLength="36" lengthAdjust="spacingAndGlyphs">맥락</text>
<text x="1304" y="1280" font-size="18" textLength="34" lengthAdjust="spacingAndGlyphs">격률</text>
<text x="1380" y="1232" font-size="16" textLength="80" lengthAdjust="spacingAndGlyphs">협동의 원리</text>
<text x="1380" y="1257" font-size="16" textLength="65" lengthAdjust="spacingAndGlyphs">양의 격률</text>
<text x="1380" y="1282" font-size="16" textLength="65" lengthAdjust="spacingAndGlyphs">질의 격률</text>
<text x="1380" y="1302" font-size="16" textLength="95" lengthAdjust="spacingAndGlyphs">관련성의 격률</text>
<text x="1380" y="1322" font-size="16" textLength="80" lengthAdjust="spacingAndGlyphs">방법의 격률</text>
<text x="1504" y="1232" font-size="12" textLength="34" lengthAdjust="spacingAndGlyphs">상호성</text>
<text x="1489" y="1251" font-size="13" textLength="91" lengthAdjust="spacingAndGlyphs">필요한 양만큼의</text>
<text x="1489" y="1264" font-size="13" textLength="34" lengthAdjust="spacingAndGlyphs">정보성</text>
<text x="1489" y="1283" font-size="13" textLength="36" lengthAdjust="spacingAndGlyphs">진실성</text>
<text x="1518" y="1303" font-size="13" textLength="37" lengthAdjust="spacingAndGlyphs">적합성</text>
<text x="1504" y="1322" font-size="13" textLength="56" lengthAdjust="spacingAndGlyphs">간단/명료</text>

<!-- ===== icons ===== -->
<g fill="#3a78d8"><circle cx="862" cy="92" r="4"/><ellipse cx="862" cy="102" rx="6" ry="5"/></g>
<g fill="#3a9ae0"><circle cx="845" cy="340" r="4"/><ellipse cx="845" cy="350" rx="6" ry="5"/></g>
<line x1="832" y1="579" x2="832" y2="595" stroke="#c04040" stroke-width="1.5"/>
<polygon points="832,579 846,586 832,592" fill="#f05050"/>
<circle cx="834" cy="790" r="7" fill="#f4c020" stroke="#c08000" stroke-width="1"/>
<rect x="833" y="785" width="2" height="6" fill="#333"/><rect x="833" y="793" width="2" height="2" fill="#333"/>
<path d="M842 1041 q8 -3 10 5 q-2 6 -6 3 q-4 4 2 8" fill="none" stroke="#8cc83c" stroke-width="3" stroke-linecap="round"/>
<circle cx="863" cy="1292" r="8" fill="#f06464"/><circle cx="863" cy="1292" r="5" fill="#fff"/><circle cx="863" cy="1292" r="3" fill="#e03030"/>
<circle cx="1208" cy="847" r="9" fill="#f5d020" stroke="#c09000" stroke-width="1"/>
<circle cx="1205" cy="844" r="1.3" fill="#333"/><circle cx="1211" cy="844" r="1.3" fill="#333"/>
<path d="M1203 849 q5 5 10 0" fill="#c03020" stroke="#333" stroke-width="1"/>
<rect x="1233" y="1046" width="14" height="14" fill="#f08070" stroke="#c03020" stroke-width="1"/>
<rect x="1236" y="1049" width="8" height="8" fill="#fff"/>
<polygon points="1240,1050 1244,1056 1236,1056" fill="#e03020"/>
<circle cx="1218" cy="1246" r="6" fill="#ffe060" stroke="#e0a000" stroke-width="1"/>
<rect x="1215" y="1251" width="6" height="5" fill="#e06020"/>

<!-- ===== center figure ===== -->
<g stroke="#111" stroke-linejoin="round">
<path d="M918 718 L948 712 L952 733 L920 738 Z" fill="#5e9e82" stroke-width="2"/>
<path d="M990 712 L1030 716 L1034 728 L996 730 Z" fill="#5e9e82" stroke-width="2"/>
<polygon points="892,650 1063,621 1056,694 908,722" fill="#fff" stroke-width="4"/>
<path d="M965 619 L1022 606 L1024 614 L976 630 Z" fill="#f0e060" stroke-width="2"/>
<ellipse cx="958" cy="636" rx="21" ry="12" transform="rotate(-20 958 636)" fill="#f8d8b0" stroke-width="2.5"/>
<ellipse cx="982" cy="614" rx="12" ry="6" fill="#f0e060" stroke-width="1.5"/>
<ellipse cx="896" cy="689" rx="15" ry="10" fill="#f0e060" stroke-width="2.5"/>
<ellipse cx="1054" cy="659" rx="17" ry="8" fill="#f0e060" stroke-width="2.5"/>
</g>
<text x="900" y="684" font-size="28" font-weight="bold" textLength="157" lengthAdjust="spacingAndGlyphs" style="font-family:'Liberation Sans Narrow','Liberation Sans',sans-serif;fill:#000;stroke:#000;stroke-width:1">CONVERSATION</text>
</svg>
</body></html>
